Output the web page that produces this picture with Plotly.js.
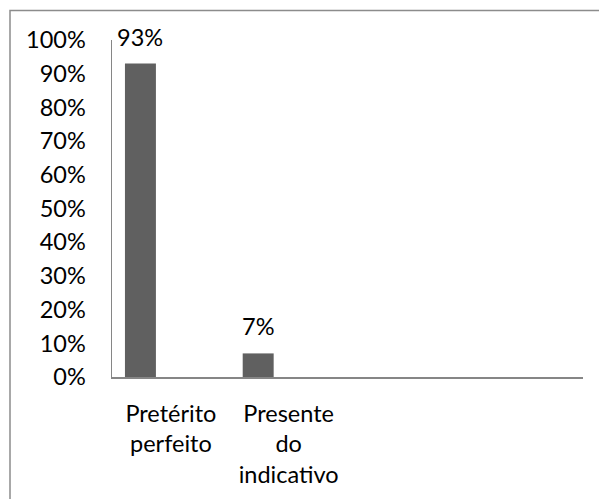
<!DOCTYPE html>
<html>
<head>
<meta charset="utf-8">
<script src="https://cdn.plot.ly/plotly-3.0.1.min.js"></script>
<style>html,body{margin:0;padding:0;background:#fff;}#chart{width:599px;height:499px;}</style>
</head>
<body>
<div id="chart"></div>
<script>
var categories = ["Pretérito<br>perfeito", "Presente<br>do<br>indicativo"];
var values = [0.93, 0.07];
var valueLabels = ["93%", "7%"];
var yTickVals = [0, 0.1, 0.2, 0.3, 0.4, 0.5, 0.6, 0.7, 0.8, 0.9, 1.0];
var yTickText = ["0%", "10%", "20%", "30%", "40%", "50%", "60%", "70%", "80%", "90%", "100%"];

var W = 599, H = 499;
var M = {l: 112, r: 16, t: 40, b: 122};
var pw = W - M.l - M.r, ph = H - M.t - M.b;
var nSlots = 4;
var catPx = pw / nSlots;
var barOffset = -0.39, barWidth = 0.263;
var barCenterShift = (barOffset + barWidth / 2) * catPx;

var font = {family: "Lato, 'Open Sans', sans-serif", size: 23.5, color: "#000"};

var trace = {
  type: "bar",
  x: categories,
  y: values,
  offset: barOffset,
  width: barWidth,
  marker: {color: "#606060"},
  hoverinfo: "none"
};

var annotations = categories.map(function (c, i) {
  return {
    x: c, y: values[i], xref: "x", yref: "y",
    text: valueLabels[i], showarrow: false,
    xanchor: "center", yanchor: "middle",
    xshift: barCenterShift, yshift: 27,
    font: font
  };
});

var layout = {
  width: W, height: H,
  margin: M,
  paper_bgcolor: "#fff", plot_bgcolor: "#fff",
  showlegend: false,
  font: font,
  xaxis: {
    type: "category",
    range: [-0.5, nSlots - 0.5],
    showgrid: false, zeroline: false,
    showline: true, linecolor: "#868686", linewidth: 1.5,
    ticks: "", tickfont: font,
    ticklabelstandoff: 15,
    fixedrange: true
  },
  yaxis: {
    range: [0, 1],
    tickvals: yTickVals, ticktext: yTickText,
    showgrid: false, zeroline: false,
    showline: true, linecolor: "#868686", linewidth: 1.5,
    ticks: "", tickfont: font,
    ticklabelstandoff: 20,
    fixedrange: true
  },
  annotations: annotations,
  shapes: [{
    type: "rect", xref: "paper", yref: "paper",
    x0: (10 - M.l) / pw, x1: (W + 10 - M.l) / pw,
    y0: (M.t + ph - (H + 10)) / ph, y1: (M.t + ph - 10.5) / ph,
    line: {color: "#8c8c8c", width: 1.5},
    fillcolor: "rgba(0,0,0,0)", layer: "below"
  }]
};

Plotly.newPlot("chart", [trace], layout, {displayModeBar: false, staticPlot: true});
</script>
</body>
</html>
